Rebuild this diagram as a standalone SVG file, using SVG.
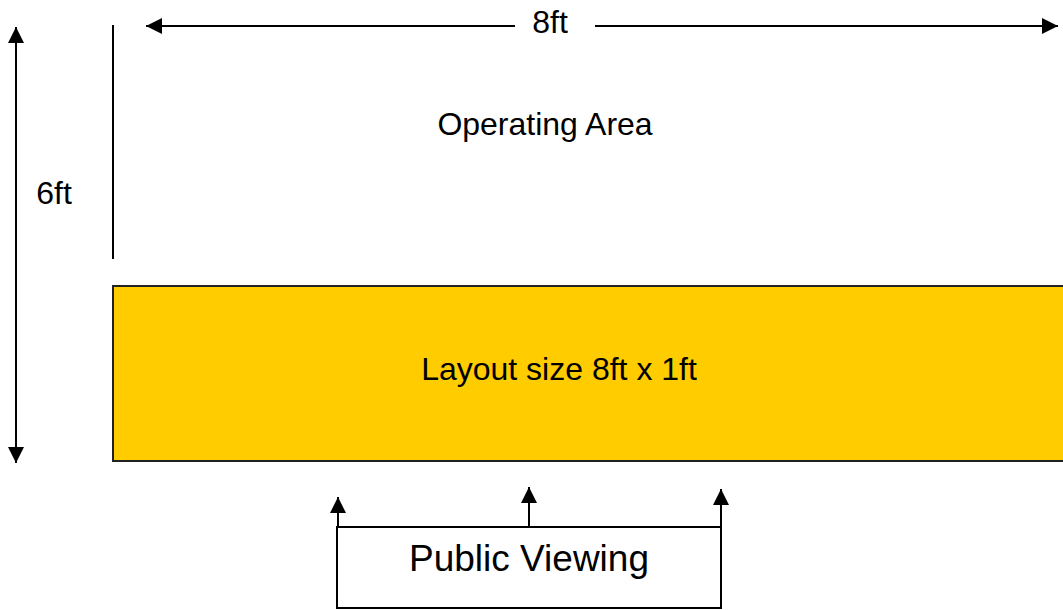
<svg xmlns="http://www.w3.org/2000/svg" width="1063" height="610" viewBox="0 0 1063 610">
<defs>
<marker id="ah" viewBox="0 0 10 10" refX="10" refY="5" markerWidth="16" markerHeight="16" markerUnits="userSpaceOnUse" orient="auto">
<path d="M0,0 L10,5 L0,10 Z" fill="#000"/>
</marker>
<style>
.t{font-family:"Liberation Sans",Arial,sans-serif;fill:#000;}
.ln{stroke:#000;stroke-width:2;fill:none;}
</style>
</defs>
<rect width="1063" height="610" fill="#fff"/>
<g id="connectors">
<line class="ln" x1="16" y1="245" x2="16" y2="27" marker-end="url(#ah)"/>
<line class="ln" x1="16" y1="245" x2="16" y2="463" marker-end="url(#ah)"/>
<line class="ln" x1="515" y1="26" x2="146" y2="26" marker-end="url(#ah)"/>
<line class="ln" x1="595" y1="26" x2="1058" y2="26" marker-end="url(#ah)"/>
<line class="ln" x1="113" y1="25" x2="113" y2="259"/>
<line class="ln" x1="338" y1="527" x2="338" y2="497" marker-end="url(#ah)"/>
<line class="ln" x1="529" y1="527" x2="529" y2="487" marker-end="url(#ah)"/>
<line class="ln" x1="721" y1="527" x2="721" y2="489" marker-end="url(#ah)"/>
</g>
<g id="dim-labels">
<text class="t" x="550" y="33" font-size="32" text-anchor="middle">8ft</text>
<text class="t" x="54" y="204" font-size="32" text-anchor="middle">6ft</text>
</g>
<g id="operating-area">
<text class="t" x="545" y="135" font-size="32" text-anchor="middle">Operating Area</text>
</g>
<g id="layout">
<rect x="113" y="286" width="960" height="175" fill="#FFCC00" stroke="#222" stroke-width="2"/>
<text class="t" x="559" y="380" font-size="32" text-anchor="middle">Layout size 8ft x 1ft</text>
</g>
<g id="public-viewing">
<rect x="337" y="527" width="384" height="81" fill="#fff" stroke="#000" stroke-width="2"/>
<text class="t" x="529" y="571" font-size="37" text-anchor="middle">Public Viewing</text>
</g>
</svg>
